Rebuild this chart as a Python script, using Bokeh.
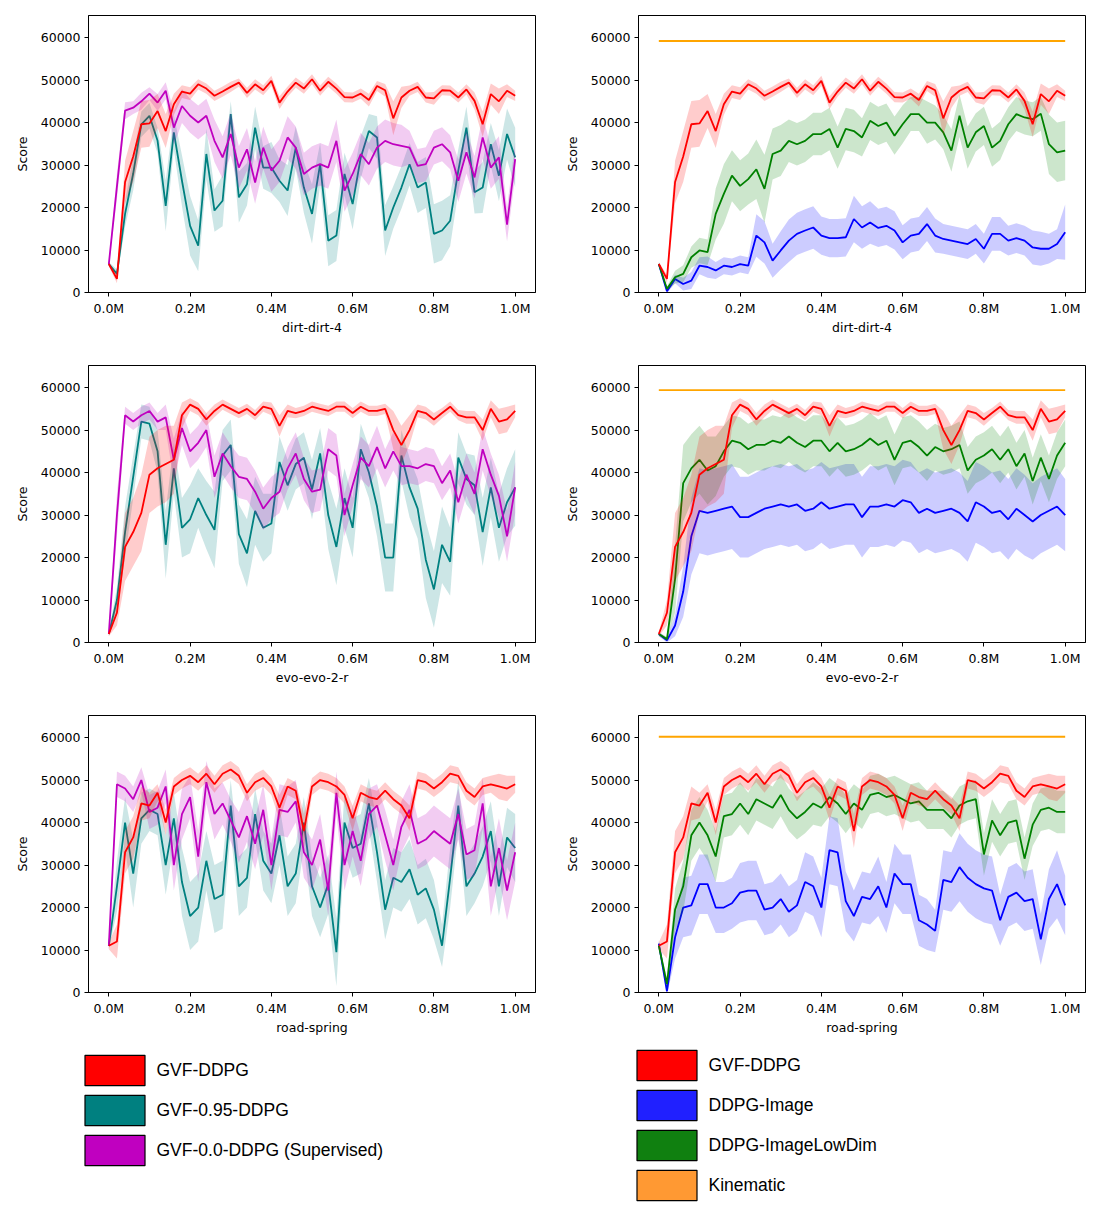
from bokeh.plotting import figure
from bokeh.models import (ColumnDataSource, Range1d, FixedTicker, PrintfTickFormatter,
                          BasicTickFormatter, Legend, LegendItem)
from bokeh.layouts import column, row
from bokeh.embed import file_html
from bokeh.resources import INLINE

# training steps (millions)
STEPS_M = [0.00, 0.02, 0.04, 0.06, 0.08, 0.10, 0.12, 0.14, 0.16, 0.18,
           0.20, 0.22, 0.24, 0.26, 0.28, 0.30, 0.32, 0.34, 0.36, 0.38,
           0.40, 0.42, 0.44, 0.46, 0.48, 0.50, 0.52, 0.54, 0.56, 0.58,
           0.60, 0.62, 0.64, 0.66, 0.68, 0.70, 0.72, 0.74, 0.76, 0.78,
           0.80, 0.82, 0.84, 0.86, 0.88, 0.90, 0.92, 0.94, 0.96, 0.98,
           1.00]

X_TICKS = [0.0, 0.2, 0.4, 0.6, 0.8, 1.0]
Y_TICKS = [0, 10000, 20000, 30000, 40000, 50000, 60000]

ENV_NAMES = ["dirt-dirt-4", "evo-evo-2-r", "road-spring"]

# ---------------- dirt-dirt-4 ----------------
dirt_gvf = [6700, 3200, 26000, 32000, 39600, 39800, 42700, 38000, 44300, 47300,
            46800, 49000, 48000, 46300, 47300, 48400, 49400, 47000, 49000, 47600,
            49800, 44700, 47300, 49400, 48000, 50200, 47500, 49600, 48000, 46000,
            45900, 46800, 45300, 48600, 47600, 41000, 45900, 47500, 48400, 45900,
            45700, 47600, 47500, 45900, 47800, 45100, 39600, 46700, 45000, 47500,
            46300]
dirt_gvf_sd = [500, 1000, 5000, 6000, 5500, 5500, 4000, 4000, 2500, 1500,
               1500, 1200, 1200, 1200, 1200, 1200, 1000, 1200, 1200, 1200,
               1200, 1500, 1200, 1200, 1200, 1200, 1200, 1200, 1200, 1200,
               1200, 1200, 1500, 1200, 1500, 4000, 2500, 1200, 1200, 1200,
               1500, 1200, 1200, 1200, 1200, 2000, 3000, 2500, 3000, 1500,
               1200]
dirt_g095 = [6700, 4400, 18500, 28000, 39600, 41600, 35700, 20400, 37700, 26300,
             15700, 11000, 32600, 19300, 21600, 42000, 22400, 25500, 38800, 29400,
             29400, 26300, 24000, 34100, 24700, 18500, 30200, 12200, 13400, 27900,
             20800, 31800, 38000, 36500, 14600, 20000, 24700, 30200, 24700, 25900,
             13800, 14600, 16900, 28700, 38800, 23600, 24700, 34900, 27500, 37300,
             31800]
dirt_g095_sd = [500, 1000, 3000, 4000, 3000, 3000, 3000, 6000, 4000, 6000,
                7000, 6000, 6000, 5000, 6000, 3000, 6000, 5000, 5000, 5000,
                6000, 5000, 6000, 5000, 6000, 7000, 5000, 6000, 6000, 5000,
                6000, 5000, 4000, 5000, 6000, 5000, 5000, 5000, 6000, 6000,
                7000, 7000, 6000, 5000, 5000, 5000, 6000, 5000, 6000, 6000,
                7000]
dirt_g00 = [6700, 25000, 42800, 43500, 45000, 46800, 44700, 47500, 38800, 43900,
            41600, 40000, 41600, 35700, 31800, 37300, 29400, 33700, 25900, 34100,
            28700, 31000, 36500, 34100, 27900, 29400, 30200, 29400, 35700, 24000,
            27900, 32600, 30200, 34100, 35700, 34900, 34500, 34100, 29800, 30200,
            34100, 34900, 33000, 26300, 33000, 27100, 36500, 29400, 31800, 16000,
            31400]
dirt_g00_sd = [500, 3000, 2000, 1500, 2000, 1500, 2000, 2000, 4000, 4000,
               4000, 4000, 4000, 5000, 5000, 5000, 5000, 5000, 5000, 5000,
               5000, 5000, 5000, 5000, 5000, 5000, 5000, 5000, 5000, 5000,
               5000, 5000, 5000, 5000, 5000, 5000, 5000, 4000, 4000, 4000,
               4000, 4000, 4000, 5000, 5000, 5000, 5000, 5000, 5000, 4000,
               4000]
dirt_lowdim = [6700, 900, 3600, 4400, 8300, 9900, 9500, 18500, 23200, 27500,
               25100, 26700, 29000, 24400, 32600, 33400, 35700, 34900, 35700, 37300,
               37300, 38500, 34100, 38500, 38000, 36500, 40400, 39200, 40000, 36900,
               39600, 42000, 42000, 40000, 40000, 37700, 33400, 41600, 34100, 37700,
               39200, 34100, 35700, 39600, 42000, 41200, 40800, 42100, 34900, 33000,
               33400]
dirt_lowdim_sd = [300, 500, 1500, 2000, 2500, 3000, 3000, 6000, 7000, 6000,
                  6000, 6000, 7000, 8000, 6000, 6000, 5000, 5000, 5000, 5000,
                  5000, 5000, 5000, 5000, 5000, 4500, 4500, 4500, 4500, 4500,
                  4500, 4000, 4000, 5000, 4000, 4000, 5000, 5000, 5000, 4500,
                  4500, 4500, 4500, 4000, 4000, 4000, 4000, 4000, 7000, 7000,
                  7000]
dirt_image = [6700, 300, 3200, 2000, 2800, 6300, 6000, 5200, 6300, 6000,
              6700, 6300, 13400, 11800, 7500, 9900, 12200, 13800, 14600, 15300,
              13400, 12800, 12800, 13000, 17300, 15300, 16500, 15200, 15700, 14600,
              11800, 13400, 13800, 16100, 13400, 12600, 12200, 11800, 11400, 12600,
              10300, 13800, 13800, 12200, 12800, 12200, 10600, 10300, 10300, 11400,
              14200]
dirt_image_sd = [300, 500, 1000, 1500, 2000, 2000, 2500, 2000, 2000, 2000,
                 2000, 2000, 5000, 5000, 4000, 4500, 5000, 5000, 5000, 5000,
                 4500, 4500, 4500, 4500, 5500, 5000, 5000, 4500, 4500, 4500,
                 4000, 4000, 4000, 4000, 4000, 3500, 3500, 3500, 3500, 3500,
                 3500, 4000, 4000, 3500, 3500, 3500, 4000, 4000, 3500, 3500,
                 6500]
dirt_kinematic = 59200

# ---------------- evo-evo-2-r ----------------
evo_gvf = [2000, 7000, 22500, 26000, 30500, 39500, 41000, 42000, 43000, 53500,
           56000, 55000, 52500, 54500, 56000, 55000, 54000, 55000, 53500, 55500,
           55000, 51000, 54500, 54000, 54500, 55500, 55000, 54500, 55500, 55500,
           54000, 55500, 54500, 54500, 55000, 50000, 46500, 50000, 54500, 54000,
           52500, 54000, 55500, 53500, 53000, 53000, 50000, 55000, 52000, 52500,
           54500]
evo_gvf_sd = [500, 3000, 8000, 8000, 9000, 9000, 9000, 9000, 8000, 3000,
              1500, 1500, 1500, 1500, 1200, 1200, 1200, 1200, 1200, 1200,
              1500, 2500, 1500, 1200, 1200, 1200, 1200, 1200, 1200, 1200,
              1200, 1200, 1200, 1200, 1200, 4500, 4500, 3500, 1500, 1500,
              1500, 1200, 1200, 1200, 1500, 1500, 2500, 2000, 3000, 3000,
              1500]
evo_g095 = [2000, 10000, 26000, 39000, 52000, 51500, 45000, 23000, 41000, 27000,
            29000, 34000, 30000, 26500, 44000, 46500, 25500, 21000, 31000, 27000,
            28000, 42500, 37000, 42000, 43500, 36000, 44500, 30000, 22500, 34000,
            27000, 45500, 40000, 32000, 20000, 20000, 44000, 36500, 31500, 19500,
            12500, 23000, 19000, 43500, 38500, 37000, 26000, 36500, 27000, 33000,
            36500]
evo_g095_sd = [500, 3000, 6000, 5000, 4000, 4000, 5000, 8000, 6000, 7000,
               8000, 7000, 8000, 9000, 6000, 6000, 7000, 8000, 8000, 8000,
               7000, 6000, 6000, 6000, 6000, 7000, 6000, 8000, 9000, 7000,
               7000, 6000, 6000, 7000, 8000, 8000, 6000, 7000, 7000, 9000,
               9000, 9000, 8000, 6000, 6000, 7000, 8000, 7000, 8000, 8000,
               9000]
evo_g00 = [2000, 30000, 53500, 52000, 53500, 54500, 52000, 53000, 43000, 50500,
           45000, 47000, 50000, 39000, 44500, 41500, 39000, 38500, 35500, 31500,
           34000, 35500, 41000, 44500, 38500, 35500, 36000, 45500, 44000, 30000,
           37000, 43500, 41500, 46000, 41000, 45000, 41500, 41500, 41000, 42000,
           41500, 37500, 40500, 33000, 39500, 35000, 45500, 39500, 34500, 25000,
           36500]
evo_g00_sd = [500, 5000, 2000, 2000, 2000, 2000, 2000, 3000, 5000, 4000,
              4000, 4000, 4000, 5000, 5000, 5000, 5000, 5000, 5000, 5000,
              5000, 5000, 5000, 5000, 5000, 5000, 5000, 5000, 5000, 5000,
              5000, 5000, 5000, 5000, 4500, 4500, 4500, 4000, 4000, 4000,
              4000, 4000, 4000, 5000, 5000, 5000, 5000, 5000, 5000, 6000,
              6000]
evo_lowdim = [2000, 800, 15000, 37500, 41000, 43000, 40500, 41500, 45000, 47500,
              47000, 45500, 46500, 46500, 47500, 47000, 48500, 47000, 46000, 47500,
              47500, 45000, 47000, 45000, 45500, 46500, 48000, 46500, 47500, 43000,
              47000, 47500, 46000, 44000, 46000, 45000, 45500, 46500, 40500, 43000,
              44000, 45500, 43000, 45500, 41500, 44500, 38000, 43500, 38500, 44000,
              47000]
evo_lowdim_sd = [500, 500, 8000, 9000, 8000, 8000, 8000, 7000, 6000, 6000,
                 6000, 6000, 6000, 6000, 6000, 6000, 6000, 6000, 6000, 6000,
                 6000, 6000, 6000, 6000, 6000, 6000, 6000, 6000, 6000, 6000,
                 6000, 6000, 6000, 6000, 5500, 5500, 5500, 5500, 5500, 5500,
                 5500, 5500, 5500, 5500, 5500, 5500, 5500, 5500, 5500, 5500,
                 5500]
evo_image = [2000, 500, 4000, 12000, 25000, 31000, 30500, 31000, 31500, 32000,
             29500, 29500, 30500, 31500, 32000, 32500, 32000, 32500, 31000, 31500,
             33000, 31500, 32000, 32500, 32500, 29500, 32000, 32000, 32500, 32000,
             33500, 33000, 30500, 31500, 30500, 31000, 31500, 30500, 28500, 33000,
             32000, 30500, 31000, 29000, 31500, 30000, 28500, 30000, 31000, 32000,
             30000]
evo_image_sd = [500, 500, 2500, 6000, 9000, 10000, 10000, 10000, 10000, 10000,
                9500, 9500, 9500, 9500, 9500, 9500, 9500, 9500, 9500, 9500,
                9500, 9500, 9500, 9500, 9500, 9500, 9500, 9500, 9500, 9500,
                9500, 9500, 9500, 9500, 9500, 9500, 9500, 9500, 9500, 9500,
                9500, 9500, 9500, 9500, 9500, 9500, 9000, 9000, 9000, 9000,
                8500]
evo_kinematic = 59400

# ---------------- road-spring ----------------
road_gvf = [11000, 12000, 33000, 36500, 44500, 44000, 47000, 40000, 48500, 50000,
            51000, 49500, 51500, 49000, 51500, 52500, 51000, 47000, 49500, 50500,
            48500, 43500, 48500, 47500, 38000, 48500, 50000, 49500, 48500, 46500,
            41000, 47000, 46000, 45500, 47500, 45500, 44000, 41000, 50000, 49500,
            48000, 49500, 51500, 51000, 47500, 46000, 48500, 49000, 48500, 48000,
            49000]
road_gvf_sd = [800, 4000, 5000, 5000, 4000, 3000, 2000, 3000, 2000, 2000,
               2000, 2000, 2000, 2000, 2000, 2000, 2000, 2000, 2000, 2000,
               2000, 3000, 2000, 2000, 4000, 2000, 2000, 2000, 2000, 2000,
               3000, 2000, 2000, 2000, 2000, 2000, 2000, 3000, 2000, 2000,
               2000, 2000, 2000, 2000, 2000, 2000, 2000, 2000, 3000, 3000,
               2000]
road_g095 = [11000, 25000, 40000, 28000, 41000, 43000, 42000, 30000, 41000, 26000,
             18000, 20000, 31000, 22000, 23000, 44000, 25000, 27000, 42000, 31000,
             28000, 37000, 25000, 28000, 40000, 25000, 20000, 25500, 9500, 40000,
             34000, 35000, 44500, 33000, 19500, 27000, 26000, 29000, 23000, 24500,
             19500, 11000, 27000, 44000, 25000, 28000, 32000, 38000, 25000, 36500,
             34000]
road_g095_sd = [800, 6000, 6000, 8000, 6000, 5000, 5000, 7000, 6000, 8000,
                8000, 8000, 7000, 8000, 8000, 6000, 7000, 7000, 6000, 7000,
                7000, 7000, 7000, 7000, 6000, 7000, 7000, 7000, 8000, 7000,
                7000, 7000, 6000, 7000, 7000, 7000, 7000, 7000, 7000, 7000,
                7000, 5000, 7000, 6000, 7000, 7000, 7000, 7000, 7000, 7000,
                8000]
road_g00 = [11000, 49000, 48000, 45500, 50000, 42500, 43500, 48500, 30000, 42000,
            46000, 32000, 49500, 42000, 44500, 40500, 36500, 41500, 35000, 43000,
            30000, 43000, 42500, 45000, 33000, 30000, 36000, 24000, 47000, 30000,
            38000, 31000, 42000, 44000, 37000, 30000, 39000, 43000, 35000, 36000,
            38000, 36500, 35000, 42000, 32500, 33500, 44500, 25000, 34000, 24000,
            33000]
road_g00_sd = [800, 3000, 3000, 3000, 3000, 4000, 4000, 4000, 6000, 6000,
               5000, 6000, 5000, 6000, 5000, 5000, 6000, 6000, 6000, 6000,
               6000, 6000, 6000, 5000, 6000, 6000, 6000, 6000, 5000, 6000,
               6000, 6000, 6000, 5000, 6000, 6000, 6000, 6000, 6000, 6000,
               6000, 6000, 6000, 6000, 6000, 6000, 6000, 7000, 7000, 7000,
               7000]
road_lowdim = [11000, 2000, 19500, 25000, 37000, 40000, 37000, 32000, 41500, 42000,
               44500, 42000, 45500, 44500, 43500, 46500, 43000, 41000, 42500, 44500,
               43500, 46000, 44500, 42000, 44500, 43000, 46500, 47000, 46000, 46500,
               45500, 44500, 45000, 43000, 43000, 43000, 41000, 44000, 45000, 45500,
               32500, 40500, 37000, 40000, 40500, 31500, 39500, 43000, 43500, 42500,
               42500]
road_lowdim_sd = [800, 1500, 5000, 6000, 6000, 6000, 6000, 6000, 5000, 5000,
                  5000, 5000, 5000, 5000, 5000, 5000, 5000, 5000, 5000, 5000,
                  4500, 4500, 4500, 4500, 4500, 4500, 4500, 4500, 4500, 4500,
                  4500, 4500, 4500, 4500, 4500, 4500, 4500, 4500, 4500, 4500,
                  5000, 5000, 5000, 5000, 5000, 5000, 5000, 5000, 5000, 5000,
                  5000]
road_image = [11500, 300, 13000, 20000, 20500, 25500, 25500, 20000, 20000, 21000,
              23500, 24000, 24000, 19500, 20000, 22000, 19000, 20500, 26000, 25000,
              20000, 33500, 33000, 21500, 18000, 22500, 22000, 25000, 20000, 28000,
              25500, 25500, 17000, 16000, 14500, 26500, 26000, 29500, 27000, 25500,
              24500, 24000, 17000, 22500, 23500, 21500, 22000, 12500, 22000, 25500,
              20500]
road_image_sd = [800, 1000, 5000, 7000, 7000, 7000, 7000, 6000, 6000, 6000,
                 7000, 7000, 7000, 6000, 6000, 6000, 6000, 6000, 7000, 7000,
                 7000, 8000, 8000, 7000, 6000, 6000, 6000, 7000, 6000, 7000,
                 7000, 7000, 6000, 6000, 5000, 7000, 7000, 8000, 8000, 8000,
                 8000, 8000, 6000, 7000, 7000, 7000, 7000, 6000, 7000, 8000,
                 7000]
road_kinematic = 60200

# ---------------- styling ----------------
C_GVF = "#ff0000"
C_G095 = "#008080"
C_G00 = "#bf00bf"
C_IMAGE = "#0000ff"
C_LOWDIM = "#008000"
C_KIN = "#ffa500"

LEG_LEFT = [("GVF-DDPG", "#ff0000"), ("GVF-0.95-DDPG", "#008080"),
            ("GVF-0.0-DDPG (Supervised)", "#c000c0")]
LEG_RIGHT = [("GVF-DDPG", "#ff0000"), ("DDPG-Image", "#2020ff"),
             ("DDPG-ImageLowDim", "#108010"), ("Kinematic", "#ff9933")]

TICK_FONT = "DejaVu Sans"
TICK_SIZE = "12.5px"


def new_panel(xlabel, left_col, row_idx, n_rows):
    first = row_idx == 0
    last = row_idx == n_rows - 1
    top = 15 if first else 7
    bottom = 48 if last else 66
    p = figure(width=550 if left_col else 548, height=top + 277 + bottom,
               min_border_left=88, min_border_right=15 if left_col else 13,
               min_border_top=top, min_border_bottom=bottom,
               x_range=Range1d(-0.05, 1.05), y_range=Range1d(0, 65200),
               output_backend="svg", toolbar_location=None, tools="")
    p.grid.visible = False
    p.outline_line_color = "black"
    p.outline_line_width = 1
    p.background_fill_color = "white"
    p.xaxis.ticker = FixedTicker(ticks=X_TICKS)
    p.xaxis.formatter = PrintfTickFormatter(format="%.1fM")
    p.yaxis.ticker = FixedTicker(ticks=Y_TICKS)
    p.yaxis.formatter = BasicTickFormatter(use_scientific=False)
    p.xaxis.axis_label = xlabel
    p.yaxis.axis_label = "Score"
    for ax in p.axis:
        ax.axis_line_color = "black"
        ax.major_tick_line_color = "black"
        ax.major_tick_out = 4
        ax.major_tick_in = 0
        ax.minor_tick_out = 0
        ax.minor_tick_in = 0
        ax.major_label_text_font = TICK_FONT
        ax.major_label_text_font_size = TICK_SIZE
        ax.major_label_text_color = "black"
        ax.axis_label_text_font = TICK_FONT
        ax.axis_label_text_font_size = TICK_SIZE
        ax.axis_label_text_font_style = "normal"
        ax.axis_label_text_color = "black"
    p.xaxis.major_label_standoff = 4
    p.xaxis.axis_label_standoff = 1
    p.yaxis.major_label_standoff = 4
    p.yaxis.axis_label_standoff = 8
    return p


def add_series(p, mean, sd, color):
    assert len(mean) == len(STEPS_M) and len(sd) == len(STEPS_M)
    src = ColumnDataSource(dict(x=STEPS_M, y=mean,
                                lo=[m - s for m, s in zip(mean, sd)],
                                hi=[m + s for m, s in zip(mean, sd)]))
    p.varea(x="x", y1="lo", y2="hi", source=src, fill_color=color, fill_alpha=0.2)
    p.line(x="x", y="y", source=src, line_color=color, line_width=1.8)


ENV_DATA = [
    (dirt_gvf, dirt_gvf_sd, dirt_g095, dirt_g095_sd, dirt_g00, dirt_g00_sd,
     dirt_image, dirt_image_sd, dirt_lowdim, dirt_lowdim_sd, dirt_kinematic),
    (evo_gvf, evo_gvf_sd, evo_g095, evo_g095_sd, evo_g00, evo_g00_sd,
     evo_image, evo_image_sd, evo_lowdim, evo_lowdim_sd, evo_kinematic),
    (road_gvf, road_gvf_sd, road_g095, road_g095_sd, road_g00, road_g00_sd,
     road_image, road_image_sd, road_lowdim, road_lowdim_sd, road_kinematic),
]

rows = []
for k, (name, d) in enumerate(zip(ENV_NAMES, ENV_DATA)):
    gvf, gvf_sd, g095, g095_sd, g00, g00_sd, img, img_sd, low, low_sd, kin = d
    pl = new_panel(name, True, k, len(ENV_NAMES))
    add_series(pl, g095, g095_sd, C_G095)
    add_series(pl, g00, g00_sd, C_G00)
    add_series(pl, gvf, gvf_sd, C_GVF)

    pr = new_panel(name, False, k, len(ENV_NAMES))
    add_series(pr, img, img_sd, C_IMAGE)
    add_series(pr, low, low_sd, C_LOWDIM)
    add_series(pr, gvf, gvf_sd, C_GVF)
    pr.line(x=STEPS_M, y=[kin] * len(STEPS_M), line_color=C_KIN, line_width=1.8)
    rows.append(row(pl, pr))

# ---------------- legend strip ----------------
lp = figure(width=1098, height=165, min_border=0, x_range=Range1d(0, 1),
            y_range=Range1d(0, 1), output_backend="svg", toolbar_location=None,
            tools="")
lp.axis.visible = False
lp.grid.visible = False
lp.outline_line_color = None

NAN = float("nan")


def make_legend(entries, loc):
    items = []
    for label, color in entries:
        r = lp.quad(left=[NAN], right=[NAN], top=[NAN], bottom=[NAN],
                    fill_color=color, line_color="black", line_width=1.2)
        items.append(LegendItem(label=label, renderers=[r]))
    leg = Legend(items=items, location=loc, orientation="vertical",
                 glyph_width=75, glyph_height=38, spacing=2, label_standoff=5,
                 padding=0, margin=0, border_line_alpha=0,
                 background_fill_alpha=0, label_text_font="Liberation Sans",
                 label_text_font_size="17.5px", label_text_color="black")
    lp.add_layout(leg)


make_legend(LEG_LEFT, (76.5, 36))
make_legend(LEG_RIGHT, (628.5, 1))

layout = column(*rows, lp)
open("out.html", "w").write(file_html(layout, INLINE))
